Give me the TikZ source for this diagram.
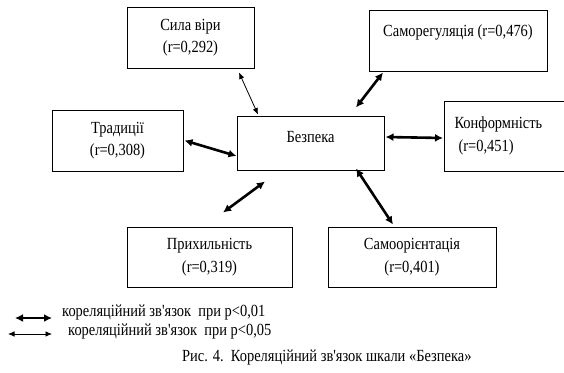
\documentclass[tikz,border=0pt]{standalone}
\usepackage{fontspec}
\newfontfamily\uafont{Liberation Serif}[FakeStretch=0.85]
\usetikzlibrary{arrows.meta}

\tikzset{
  box/.style={draw, line width=1pt, minimum height=61pt, align=center, inner sep=0pt},
  strong/.style={{Latex[length=8pt,width=8pt]}-{Latex[length=8pt,width=8pt]}, line width=2.6pt},
  weak/.style={{Latex[length=6.5pt,width=5.5pt]}-{Latex[length=6.5pt,width=5.5pt]}, line width=0.8pt},
  legend/.style={anchor=base west, inner sep=0pt}
}

\begin{document}
\begin{tikzpicture}[x=1pt,y=-1pt,font=\uafont\fontsize{17pt}{22.6pt}\selectfont]
\useasboundingbox (0,0) rectangle (564,372);

% scales
\node[box, minimum width=147pt, minimum height=54pt, text depth=12pt] (bezpeka) at (310.5,143) {Безпека};
\node[box, minimum width=127pt] (sila) at (190.5,37.5) {Сила віри\\(r=0,292)};
\node[box, minimum width=178pt, text depth=20pt] (samoreg) at (458,40.5) {Саморегуляція (r=0,476)};
\node[box, minimum width=131pt] (trad) at (117.5,140.5) {Традиції\\(r=0,308)};
\node[box, anchor=west, minimum height=70pt, text width=130pt, align=left, inner xsep=10pt] (konf) at (444,136) {Конформність\\\hspace*{4pt}(r=0,451)};
\node[box, minimum width=165pt, minimum height=60pt] (pryh) at (209.5,257) {Прихильність\\(r=0,319)};
\node[box, minimum width=168pt, minimum height=60pt] (samoor) at (412,257) {Самоорієнтація\\(r=0,401)};

% links
\draw[weak] ([xshift=48.5pt,yshift=-4pt]sila.south) -- ([xshift=-52.5pt,yshift=1pt]bezpeka.north);
\draw[strong] ([xshift=-75pt,yshift=-1pt]samoreg.south) -- ([xshift=45.5pt,yshift=8pt]bezpeka.north);
\draw[strong] ([xshift=1pt]trad.east) -- ([yshift=-13pt]bezpeka.west);
\draw[strong] ([xshift=1pt,yshift=6pt]bezpeka.east) -- ([xshift=-1pt,yshift=-2pt]konf.west);
\draw[strong] ([xshift=13.5pt,yshift=14pt]pryh.north) -- ([xshift=-45.5pt,yshift=-11pt]bezpeka.south);
\draw[strong] ([xshift=45.5pt,yshift=2pt]bezpeka.south) -- ([xshift=-19pt,yshift=2pt]samoor.north);

% legend
\node[legend] (leg1) at (62,316) {кореляційний зв'язок\ \ при p<0,01};
\node[legend] (leg2) at (68,335) {кореляційний зв'язок\ \ при p<0,05};
\draw[strong] ([xshift=-47pt,yshift=-2pt]leg1.base west) -- ([xshift=-10pt,yshift=-2pt]leg1.base west);
\draw[weak] ([xshift=-60pt,yshift=1pt]leg2.base west) -- ([xshift=-16pt,yshift=1pt]leg2.base west);
\node[legend] (caption) at (182,361) {Рис. 4.\ \ Кореляційний зв'язок шкали «Безпека»};

\end{tikzpicture}
\end{document}
